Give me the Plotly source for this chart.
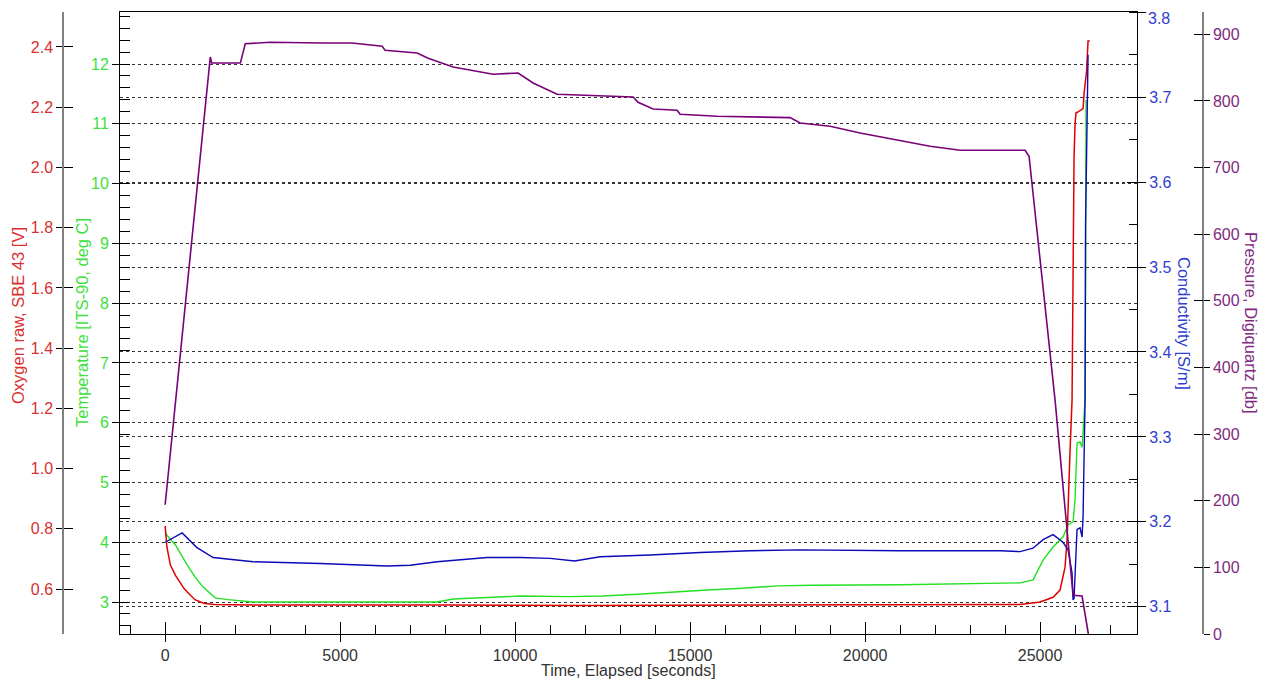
import plotly.graph_objects as go

# page offset: the html body has an 8px margin
OX, OY = 8, 8
W, H = 1270 - OX, 685 - OY

# ---------------- data ----------------
pressure_t = [0, 1290, 1330, 2150, 2290, 3000, 4500, 5343, 6200, 6286,
              7200, 7514, 8229, 8800, 9371, 10086, 10514, 11200, 13371, 13514,
              13943, 14629, 14714, 15771, 17857, 18143, 19000, 19857, 20429, 21000,
              21857, 22714, 24571, 24686, 25000, 25429, 25943, 26200, 26380]
pressure_v = [194, 866, 857, 857, 886, 888, 887, 887, 882, 876,
              872, 864, 851, 846, 840, 842, 827, 810, 806, 798,
              788, 786, 780, 777, 775, 767, 762, 752, 746, 741,
              732, 726, 726, 717, 566, 351, 58, 57, 0]

oxygen_t = [0, 50, 150, 300, 550, 850, 1100, 1400, 2500, 5000,
            8000, 12000, 16000, 20000, 24000, 24429, 25000, 25371, 25571, 25657,
            25714, 25771, 25800, 25857, 25914, 25950, 25971, 26000, 26029, 26057,
            26143, 26229, 26257, 26300, 26330, 26371, 26420]
oxygen_v = [0.81, 0.74, 0.68, 0.645, 0.60, 0.565, 0.553, 0.549, 0.547, 0.546,
            0.547, 0.546, 0.547, 0.547, 0.547, 0.549, 0.557, 0.573, 0.597, 0.64,
            0.673, 0.763, 0.895, 1.061, 1.227, 1.8, 2.033, 2.146, 2.182, 2.182,
            2.19, 2.195, 2.245, 2.295, 2.321, 2.42, 2.42]

temp_t = [0, 300, 629, 850, 1086, 1429, 1800, 2514, 5000, 7771,
          8229, 9200, 10143, 11500, 12500, 13500, 14500, 15500, 16500, 17500,
          18500, 21000, 24429, 24800, 25086, 25371, 25657, 25800, 25943, 26000,
          26057, 26143, 26200, 26229, 26286, 26295, 26305, 26314]
temp_v = [4.15, 3.95, 3.62, 3.42, 3.25, 3.07, 3.04, 3.0, 3.0, 3.0,
          3.05, 3.08, 3.1, 3.09, 3.1, 3.13, 3.17, 3.2, 3.23, 3.27,
          3.28, 3.29, 3.32, 3.37, 3.70, 3.92, 4.09, 4.29, 4.34, 4.71,
          5.66, 5.68, 5.59, 5.88, 6.38, 7.4, 10.1, 11.4]

cond_t = [0, 486, 900, 1371, 2514, 4429, 6343, 7000, 7771, 9200,
          10143, 11000, 11700, 12430, 13860, 15290, 16710, 18140, 21000, 23860,
          24429, 24800, 25086, 25371, 25657, 25800, 25914, 25943, 25971, 26057,
          26143, 26200, 26229, 26286, 26300, 26340, 26371]
cond_v = [3.176, 3.187, 3.170, 3.158, 3.153, 3.151, 3.148, 3.149, 3.153, 3.158,
          3.158, 3.157, 3.154, 3.159, 3.161, 3.164, 3.166, 3.167, 3.166, 3.166,
          3.165, 3.169, 3.179, 3.185, 3.176, 3.167, 3.140, 3.108, 3.11, 3.191,
          3.193, 3.182, 3.206, 3.344, 3.55, 3.7, 3.75]

cond_ticks = [3.1, 3.2, 3.3, 3.4, 3.5, 3.6, 3.7, 3.8]
cond_tick_labels = ["3.1", "3.2", "3.3", "3.4", "3.5", "3.6", "3.7", "3.8"]

x_range = [-1290, 27770]
temp_range = [2.465, 12.87]
oxy_range = [0.451, 2.516]
cond_range = [3.068, 3.8002]
pres_range = [0, 933.5]

# ---------------- styling ----------------
FONT = "Liberation Sans, Arial, sans-serif"
TICK_FS = 16
XTITLE_FS = 16
YTITLE_FS = 16.5
RED, RED_T = "#e00000", "#d83030"
GREEN, GREEN_T = "#22e022", "#3ee03e"
BLUE, BLUE_T = "#0a0ab8", "#3040d0"
PURPLE, PURPLE_T = "#780078", "#802a80"

# plot box in page pixels
PL, PR, PT, PB = 120, 1137, 12, 634

def px(xp):
    return (xp - OX) / W

def py(yp):
    return (PB - yp) / (PB - PT)

fig = go.Figure()
fig.add_trace(go.Scatter(x=temp_t, y=temp_v, mode="lines", yaxis="y",
                         line=dict(color=GREEN, width=1.4), showlegend=False))
fig.add_trace(go.Scatter(x=oxygen_t, y=oxygen_v, mode="lines", yaxis="y2",
                         line=dict(color=RED, width=1.5), showlegend=False))
fig.add_trace(go.Scatter(x=cond_t, y=cond_v, mode="lines", yaxis="y3",
                         line=dict(color=BLUE, width=1.4), showlegend=False))
fig.add_trace(go.Scatter(x=pressure_t, y=pressure_v, mode="lines", yaxis="y4",
                         line=dict(color=PURPLE, width=1.6), showlegend=False))

# empty helper traces so the tick-only companion axes are drawn
for xa, ya in [("x2", "y"), ("x", "y5"), ("x", "y6"), ("x", "y7"), ("x", "y8")]:
    fig.add_trace(go.Scatter(x=[None], y=[None], xaxis=xa, yaxis=ya,
                             mode="lines", showlegend=False, hoverinfo="skip"))

grid = dict(showgrid=True, gridcolor="#333333", griddash="3px,3px", gridwidth=1)
common = dict(automargin=False, zeroline=False)

def companion(rng, dtick, tick0, **kw):
    d = dict(range=rng, tickmode="linear", dtick=dtick, tick0=tick0,
             showticklabels=False, showgrid=False, showline=False,
             ticks="inside", tickcolor="black", automargin=False, zeroline=False)
    d.update(kw)
    return d

# the top conductivity label sits on the page edge; it is drawn as a
# separate text just inside the page so it is not clipped
cond_labels_on_axis = cond_tick_labels[:-1] + [""]

fig.update_layout(
    width=W, height=H,
    margin=dict(l=0, r=0, t=PT - OY, b=H - (PB - OY), autoexpand=False),
    paper_bgcolor="white", plot_bgcolor="white",
    font=dict(family=FONT, size=TICK_FS),
    xaxis=dict(domain=[px(PL), px(PR)], range=x_range, anchor="y",
               showline=True, linecolor="black", linewidth=1, mirror=True,
               showgrid=False, tickmode="linear", tick0=0, dtick=5000, tickformat="d",
               ticks="outside", ticklen=7, tickcolor="black",
               minor=dict(ticks="inside", ticklen=9, dtick=1000, tickcolor="black", showgrid=False),
               tickfont=dict(color="#333333", size=TICK_FS), **common),
    xaxis2=dict(overlaying="x", anchor="y", side="bottom", domain=[px(PL), px(PR)],
                **companion(x_range, 5000, 0, ticklen=12)),
    yaxis=dict(range=temp_range, side="left", anchor="x",
               showline=True, linecolor="black", linewidth=1,
               tickmode="linear", tick0=0, dtick=1,
               ticks="outside", ticklen=7, tickcolor="black",
               minor=dict(ticks="inside", ticklen=10, dtick=0.2, tickcolor="black", showgrid=False),
               tickfont=dict(color=GREEN_T, size=TICK_FS), **grid, **common),
    yaxis2=dict(range=oxy_range, overlaying="y", anchor="free", position=px(63), side="left",
                showline=True, linecolor="#808080", linewidth=1.5,
                showgrid=False, tickmode="linear", tick0=0, dtick=0.2,
                tickformat=".1f", ticks="outside", ticklen=6, tickcolor="black",
                tickfont=dict(color=RED_T, size=TICK_FS), **common),
    yaxis3=dict(range=cond_range, overlaying="y", anchor="x", side="right",
                showline=True, linecolor="black", linewidth=1,
                tickmode="array", tickvals=cond_ticks, ticktext=cond_labels_on_axis,
                ticks="outside", ticklen=8, tickcolor="black",
                minor=dict(ticks="inside", ticklen=8, dtick=0.05, tick0=3.0,
                           tickcolor="black", showgrid=False),
                tickfont=dict(color=BLUE_T, size=TICK_FS), **grid, **common),
    yaxis4=dict(range=pres_range, overlaying="y", anchor="free", position=px(1203), side="right",
                showline=True, linecolor="#808080", linewidth=1.5,
                showgrid=False, tickmode="linear", tick0=0, dtick=100,
                ticks="outside", ticklen=6, tickcolor="black",
                tickfont=dict(color=PURPLE_T, size=TICK_FS), **common),
    # tick-only companions giving the "crossing" major ticks
    yaxis5=dict(overlaying="y", anchor="x", side="left", **companion(temp_range, 1, 0, ticklen=10)),
    yaxis6=dict(overlaying="y", anchor="free", position=px(63), side="left",
                **companion(oxy_range, 0.2, 0, ticklen=9)),
    yaxis7=dict(overlaying="y", anchor="x", side="right", **companion(cond_range, 0.1, 3.0, ticklen=10)),
    yaxis8=dict(overlaying="y", anchor="free", position=px(1203), side="right",
                **companion(pres_range, 100, 0, ticklen=9)),
)

ann = [
    dict(text="Time, Elapsed [seconds]", x=px(628), y=py(670), textangle=0,
         xanchor="center", font=dict(color="#333333", size=XTITLE_FS)),
    dict(text="Oxygen raw, SBE 43 [V]", x=px(18), y=py(316), textangle=-90,
         xanchor="center", font=dict(color=RED_T, size=YTITLE_FS)),
    dict(text="Temperature [ITS-90, deg C]", x=px(82), y=py(323), textangle=-90,
         xanchor="center", font=dict(color=GREEN_T, size=YTITLE_FS)),
    dict(text="Conductivity [S/m]", x=px(1184), y=py(323), textangle=90,
         xanchor="center", font=dict(color=BLUE_T, size=YTITLE_FS)),
    dict(text="Pressure, Digiquartz [db]", x=px(1251), y=py(323), textangle=90,
         xanchor="center", font=dict(color=PURPLE_T, size=YTITLE_FS)),
    dict(text=cond_tick_labels[-1], x=px(1147), y=py(18), textangle=0,
         xanchor="left", font=dict(color=BLUE_T, size=TICK_FS)),
]
for a in ann:
    fig.add_annotation(xref="paper", yref="paper", showarrow=False,
                       yanchor="middle", borderpad=0, **a)

fig.write_html("out.html")
